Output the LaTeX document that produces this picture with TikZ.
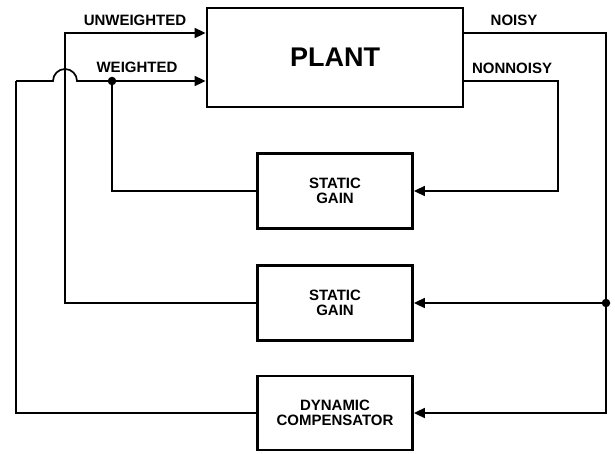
\documentclass[tikz,border=0pt]{standalone}
\usepackage{fontspec}
\setmainfont{Liberation Sans}
\usetikzlibrary{arrows.meta}
\begin{document}
\begin{tikzpicture}[x=1pt,y=-1pt,
  box/.style={draw,line width=2.8pt,rectangle,align=center,font=\bfseries\fontsize{15}{15}\selectfont,inner sep=0pt},
  conn/.style={line width=1.7pt},
  arr/.style={conn,-{Triangle[length=11pt,width=10pt]}},
  lbl/.style={font=\bfseries\fontsize{15}{15}\selectfont,anchor=base,inner sep=0pt},
  dot/.style={circle,fill,inner sep=0pt,minimum size=8.5pt}]
\useasboundingbox (0,0) rectangle (615,453);
\node[box,minimum width=256pt,minimum height=99pt,font=\bfseries\fontsize{27}{30}\selectfont] (plant) at (335,57.5) {PLANT};
\node[box,minimum width=155pt,minimum height=75pt] (g1) at (335,191) {STATIC\\GAIN};
\node[box,minimum width=155pt,minimum height=75pt] (g2) at (335,303) {STATIC\\GAIN};
\node[box,minimum width=155pt,minimum height=74pt] (dyn) at (335,413) {DYNAMIC\\COMPENSATOR};
\coordinate (yU) at (0,33);
\coordinate (yW) at (0,81);
\coordinate (nd) at (606,303);
\coordinate (nnx) at (558,191);
\coordinate (wd) at (112,81);
\coordinate (lx) at (16,81);
\coordinate (hump) at (53,81);
\coordinate (ux) at (65,303);
% labels
\node[lbl] (tu) at (135,25) {UNWEIGHTED};
\node[lbl] (tw) at (137,72) {WEIGHTED};
\node[lbl] (tn) at (514,25) {NOISY};
\node[lbl] (tnn) at (512,73) {NONNOISY};
% connectors
\draw[arr] (plant.east |- yU) -| (nd) |- (dyn.east);
\draw[arr] (nd) -- (g2.east);
\draw[arr] (plant.east |- yW) -| (nnx) -- (g1.east);
\draw[conn] (g1.west) -| (wd);
\draw[conn] (dyn.west) -| (lx);
\draw[arr] (lx) -- (hump) arc[start angle=180,end angle=360,radius=12] -- (plant.west |- yW);
\draw[arr] (g2.west) -- (ux) |- (plant.west |- yU);
\node[dot] (d1) at (wd) {};
\node[dot] (d2) at (nd) {};
\end{tikzpicture}
\end{document}
